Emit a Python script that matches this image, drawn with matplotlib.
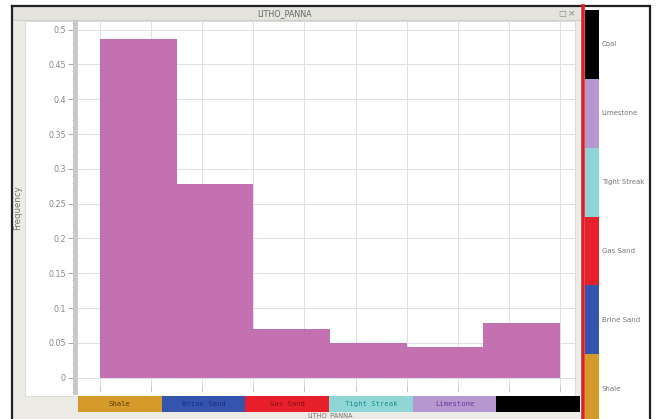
import numpy as np
import matplotlib
matplotlib.use("Agg")
import matplotlib.pyplot as plt
from matplotlib.patches import Rectangle
from matplotlib.ticker import FuncFormatter, MultipleLocator

# Lithology classes and their histogram frequencies
lithologies = ["Shale", "Brine Sand", "Gas Sand", "Tight Streak", "Limestone", "Coal"]
frequencies = [0.486, 0.278, 0.070, 0.050, 0.044, 0.079]
litho_colors = ["#d49a2a", "#3454ad", "#e8202c", "#90d6d6", "#b697cf", "#000000"]
label_colors = ["#5a3e0c", "#1c2c88", "#8a0c14", "#1f8f8f", "#6d3a98", "#000000"]
y_ticks = [0, 0.05, 0.1, 0.15, 0.2, 0.25, 0.3, 0.35, 0.4, 0.45, 0.5]

W, H = 657, 419
fig = plt.figure(figsize=(W / 100, H / 100), dpi=100)
fig.patch.set_facecolor("white")


def px_rect(x0, y0, x1, y1):
    return [x0 / W, 1 - y1 / H, (x1 - x0) / W, (y1 - y0) / H]


# window frame drawn in pixel space
bg = fig.add_axes([0, 0, 1, 1], zorder=0)
bg.set_xlim(0, W)
bg.set_ylim(H, 0)
bg.axis("off")
bg.add_patch(Rectangle((12, 6), 568, 413, facecolor="#ecebe6", edgecolor="none"))
bg.add_patch(Rectangle((12, 7), 568, 13, facecolor="#e4e3de", edgecolor="none"))
bg.plot([12, 580], [20.5, 20.5], color="#d0cfca", lw=0.8)
bg.add_patch(Rectangle((25, 21), 550, 375, facecolor="white", edgecolor="#d8d8d4", lw=0.6))
bg.plot([11.5, 650], [6, 6], color="#222222", lw=1.6)
bg.plot([11.5, 11.5], [6, 419], color="#222222", lw=1.6)
bg.plot([650, 650], [6, 419], color="#222222", lw=1.6)
bg.plot([582.5, 582.5], [6, 419], color="#e01e24", lw=2.6)
bg.text(285, 13.5, "LITHO_PANNA", fontsize=5.8, color="#666666", ha="center", va="center")
bg.text(562, 13.5, "\u25a1", fontsize=6, color="#888888", ha="center", va="center")
bg.text(572, 13.5, "\u00d7", fontsize=6.5, color="#888888", ha="center", va="center")
bg.text(18, 208, "Frequency", fontsize=6.2, color="#777777", rotation=90,
        ha="center", va="center")
bg.text(330, 415.2, "LITHO_PANNA", fontsize=4.8, color="#777777", ha="center", va="center")

# main histogram
ax = fig.add_axes(px_rect(75, 22, 575, 392), zorder=1)
ax.set_facecolor("none")
n = len(lithologies)
edges = np.arange(n + 1)
ax.bar(edges[:-1], frequencies, width=1.0, align="edge", color="#c066ab",
       edgecolor="none", alpha=0.93, zorder=2)
x0 = -25 / (460 / n)
x1 = n + 15 / (460 / n)
ax.set_xlim(x0, x1)
ax.set_ylim(-14.3 / 696, 0.5 + 7.7 / 696)
ax.set_xticks(np.linspace(0, n, 10))
ax.set_xticklabels([])
ax.set_yticks(y_ticks)
ax.yaxis.set_minor_locator(MultipleLocator(0.01))
ax.yaxis.set_major_formatter(FuncFormatter(lambda v, p: f"{v:.2f}".rstrip("0").rstrip(".")))
ax.grid(True, which="major", color="#dcdfe6", lw=0.7, zorder=0)
ax.set_axisbelow(True)
for s in ["top", "right", "bottom"]:
    ax.spines[s].set_visible(False)
ax.spines["left"].set_color("#c8c8c8")
ax.spines["left"].set_linewidth(3.5)
ax.tick_params(axis="y", which="major", length=5, width=0.6, color="#999999",
               labelsize=5.8, labelcolor="#888888", pad=1.5)
ax.tick_params(axis="y", which="minor", length=2.5, width=0.4, color="#aaaaaa")
ax.tick_params(axis="x", which="major", length=4, width=0.5, color="#bbbbbb",
               direction="in")

# category strip under the histogram
cat = fig.add_axes(px_rect(78, 396, 580, 412), zorder=1)
for i, (name, c, lc) in enumerate(zip(lithologies, litho_colors, label_colors)):
    cat.add_patch(Rectangle((i, 0), 1, 1, facecolor=c, edgecolor="none"))
    cat.text(i + 0.5, 0.5, name, fontsize=5.2, color=lc, ha="center", va="center",
             family="DejaVu Sans Mono")
cat.set_xlim(0, n)
cat.set_ylim(0, 1)
cat.axis("off")

# vertical color key on the right
key = fig.add_axes(px_rect(585, 10, 599, 419), zorder=1)
for i, c in enumerate(litho_colors):
    key.add_patch(Rectangle((0, i), 1, 1, facecolor=c, edgecolor="none"))
key.set_xlim(0, 1)
key.set_ylim(0.06, n)
key.axis("off")
for i, name in enumerate(lithologies):
    key.text(1.2, i + 0.5, name, fontsize=5.0, color="#777777", ha="left",
             va="center", transform=key.transData, clip_on=False)

fig.savefig("out.png", dpi=100, facecolor=fig.get_facecolor())
